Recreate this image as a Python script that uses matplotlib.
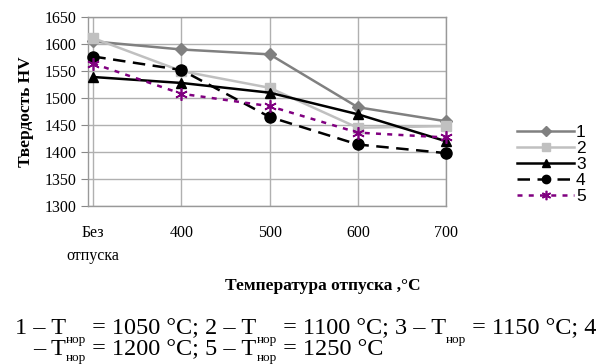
import numpy as np
import matplotlib
matplotlib.use("Agg")
import matplotlib.pyplot as plt

plt.rcParams["font.family"] = ["Liberation Serif", "DejaVu Serif"]

categories = ["Без\nотпуска", "400", "500", "600", "700"]
series_labels = ["1", "2", "3", "4", "5"]
hv_1 = [1605, 1590, 1581, 1483, 1457]
hv_2 = [1611, 1550, 1519, 1445, 1448]
hv_3 = [1539, 1528, 1510, 1470, 1420]
hv_4 = [1577, 1552, 1465, 1414, 1398]
hv_5 = [1564, 1508, 1485, 1436, 1427]
y_ticks = [1300, 1350, 1400, 1450, 1500, 1550, 1600, 1650]
t_nor = ["1050", "1100", "1150", "1200", "1250"]

styles = [
    dict(color="#808080", marker="D", ms=6.5, ls="-"),
    dict(color="#c0c0c0", marker="s", ms=7.5, ls="-"),
    dict(color="black", marker="^", ms=7.5, ls="-"),
    dict(color="black", marker="o", ms=8, ls=(0, (5, 3))),
    dict(color="#800080", marker=(6, 2, 0), ms=9, ls=(0, (2, 2.5)), mew=1.2),
]

fig = plt.figure(figsize=(5.97, 3.64), dpi=100)
ax = fig.add_axes([0.1474, 0.434, 0.5997, 0.519])

x = np.arange(len(categories))
for vals, lab, st in zip([hv_1, hv_2, hv_3, hv_4, hv_5], series_labels, styles):
    ax.plot(x, vals, label=lab, lw=1.8, mec=st["color"], mfc=st["color"],
            clip_on=False, zorder=3, **st)

ax.set_xlim(-0.06, 4)
ax.set_ylim(1300, 1650)
ax.set_yticks(y_ticks)
ax.set_xticks(x)
ax.set_xticklabels(categories, fontsize=11.5, linespacing=1.55)
ax.tick_params(axis="x", length=0, pad=14)
ax.tick_params(axis="y", length=5, pad=3, color="#888888", labelsize=11.5)
for lbl in ax.get_xticklabels():
    lbl.set_verticalalignment("top")
    lbl.set_multialignment("center")
ax.grid(True, color="#b0b0b0", lw=1)
ax.set_axisbelow(True)
for s in ax.spines.values():
    s.set_color("#999999")
    s.set_linewidth(1)

ax.set_ylabel("Твердость HV", fontsize=12.5, fontweight="bold", labelpad=8)
fig.text(0.541, 0.215, "Температура отпуска ,°C", fontsize=12.5, fontweight="bold",
         ha="center", va="center")

leg = ax.legend(loc="upper left", bbox_to_anchor=(0.866, 0.657), bbox_transform=fig.transFigure,
                frameon=False, handlelength=3.3, handletextpad=0.1, labelspacing=0.05,
                borderpad=0, borderaxespad=0, markerscale=0.75,
                prop={"family": "Liberation Sans", "size": 12.5})

# caption, laid out piece by piece in pixel coordinates
renderer = fig.canvas.get_renderer()
H = 364


def put_runs(x0, base_from_top, runs):
    xp = x0
    for txt, size, dy in runs:
        t = fig.text(xp, H - base_from_top + dy, txt, fontsize=size,
                     ha="left", va="baseline", transform=None)
        xp += t.get_window_extent(renderer).width
    return xp


main, small = 17.5, 9.5
line1 = []
for i in range(3):
    pre = f"{i + 1} – T" if i == 0 else f" = {t_nor[i - 1]} °C; {i + 1} – T"
    line1 += [(pre, main, 0), ("нор", small, -9)]
line1 += [(f" = {t_nor[2]} °C; 4", main, 0)]
put_runs(15, 334, line1)

line2 = [("– T", main, 0), ("нор", small, -6),
         (f" = {t_nor[3]} °C; 5 – T", main, 0), ("нор", small, -6),
         (f" = {t_nor[4]} °C", main, 0)]
put_runs(33, 355, line2)

fig.savefig("out.png", dpi=100)
